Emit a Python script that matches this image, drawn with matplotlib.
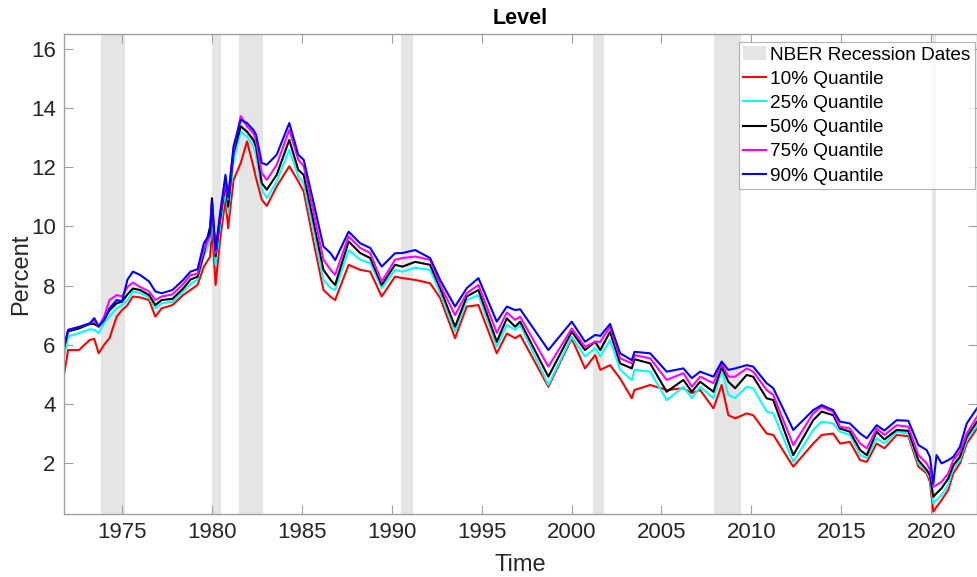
import matplotlib
matplotlib.use("Agg")
import matplotlib.pyplot as plt
import numpy as np

# ---- data ----
t = [1971.77, 1972.0, 1972.6, 1973.2, 1973.45, 1973.7, 1974.0, 1974.3, 1974.7, 1975.0,
     1975.3, 1975.6, 1976.0, 1976.5, 1976.85, 1977.2, 1977.8, 1978.4, 1978.8, 1979.2,
     1979.55, 1979.9, 1980.0, 1980.2, 1980.45, 1980.75, 1980.9, 1981.2, 1981.6, 1981.95,
     1982.3, 1982.45, 1982.77, 1983.05, 1983.6, 1984.3, 1984.8, 1985.1, 1985.7, 1986.2,
     1986.6, 1986.85, 1987.6, 1988.24, 1988.8, 1989.44, 1990.18, 1990.6, 1991.3, 1992.13,
     1992.69, 1993.52, 1994.17, 1994.82, 1995.84, 1996.4, 1996.86, 1997.14, 1998.71, 2000.01,
     2000.75, 2001.31, 2001.6, 2002.14, 2002.7, 2003.35, 2003.5, 2004.37, 2005.29, 2006.22,
     2006.69, 2007.15, 2007.89, 2008.35, 2008.72, 2009.1, 2009.74, 2010.1, 2010.85, 2011.22,
     2012.33, 2013.44, 2013.91, 2014.55, 2014.93, 2015.48, 2016.05, 2016.42, 2016.97, 2017.4,
     2018.08, 2018.73, 2019.29, 2019.75, 2019.93, 2020.12, 2020.3, 2020.58, 2020.95, 2021.23,
     2021.6, 2021.98, 2022.55]

q10 = [4.98, 5.82, 5.82, 6.16, 6.20, 5.71, 6.00, 6.22, 6.95, 7.17,
       7.34, 7.63, 7.60, 7.51, 6.95, 7.23, 7.34, 7.68, 7.85, 8.02,
       8.64, 8.98, 10.0, 8.02, 9.54, 10.9, 9.94, 11.57, 12.14, 12.87,
       12.03, 11.63, 10.9, 10.69, 11.35, 12.03, 11.52, 11.18, 9.32, 7.85,
       7.62, 7.51, 8.70, 8.53, 8.47, 7.63, 8.30, 8.25, 8.19, 8.08,
       7.58, 6.22, 7.29, 7.34, 5.71, 6.38, 6.22, 6.33, 4.58, 6.21,
       5.20, 5.65, 5.15, 5.31, 4.86, 4.19, 4.47, 4.64, 4.47, 4.53,
       4.36, 4.47, 3.85, 4.64, 3.62, 3.51, 3.68, 3.62, 3.00, 2.95,
       1.88, 2.66, 2.95, 3.00, 2.66, 2.72, 2.10, 2.04, 2.66, 2.50,
       2.95, 2.91, 1.88, 1.65, 1.37, 0.36, 0.52, 0.75, 1.09, 1.65,
       1.99, 2.66, 3.17]

q25 = [5.55, 6.28, 6.39, 6.52, 6.50, 6.39, 6.73, 6.95, 7.23, 7.34,
       7.50, 7.80, 7.75, 7.60, 7.23, 7.40, 7.45, 7.80, 8.05, 8.20,
       8.98, 9.54, 10.56, 8.70, 10.0, 11.29, 10.44, 12.2, 13.2, 13.04,
       12.71, 12.4, 11.24, 10.95, 11.52, 12.59, 11.69, 11.46, 9.66, 8.19,
       7.91, 7.85, 9.20, 8.87, 8.76, 7.91, 8.53, 8.47, 8.60, 8.53,
       7.74, 6.44, 7.51, 7.68, 5.93, 6.67, 6.50, 6.67, 4.64, 6.27,
       5.60, 5.88, 5.60, 6.16, 5.15, 4.80, 5.15, 5.09, 4.13, 4.58,
       4.19, 4.58, 4.19, 5.15, 4.30, 4.20, 4.58, 4.53, 3.74, 3.68,
       2.04, 3.12, 3.40, 3.34, 3.06, 2.95, 2.27, 2.17, 2.84, 2.66,
       3.06, 3.00, 1.99, 1.71, 1.48, 0.64, 0.75, 0.92, 1.26, 1.82,
       2.10, 2.78, 3.28]

q50 = [5.88, 6.45, 6.55, 6.70, 6.70, 6.61, 6.84, 7.17, 7.40, 7.46,
       7.70, 7.90, 7.85, 7.68, 7.34, 7.51, 7.55, 7.90, 8.20, 8.30,
       9.09, 10.0, 10.95, 8.98, 10.22, 11.46, 10.67, 12.48, 13.38, 13.2,
       12.92, 12.7, 11.46, 11.24, 11.74, 12.92, 11.91, 11.74, 10.0, 8.53,
       8.19, 8.02, 9.49, 9.10, 8.93, 8.02, 8.70, 8.64, 8.80, 8.70,
       7.91, 6.61, 7.63, 7.85, 6.10, 6.89, 6.61, 6.78, 4.92, 6.44,
       5.82, 6.10, 5.82, 6.44, 5.37, 5.20, 5.51, 5.37, 4.41, 4.81,
       4.41, 4.75, 4.41, 5.26, 4.75, 4.53, 4.98, 4.92, 4.19, 4.13,
       2.27, 3.45, 3.74, 3.62, 3.17, 3.06, 2.44, 2.27, 3.06, 2.80,
       3.12, 3.09, 2.10, 1.77, 1.60, 0.86, 0.98, 1.15, 1.48, 1.93,
       2.21, 2.89, 3.40]

q75 = [5.92, 6.50, 6.60, 6.72, 6.80, 6.62, 6.95, 7.51, 7.68, 7.63,
       7.95, 8.10, 7.95, 7.80, 7.51, 7.63, 7.70, 8.05, 8.35, 8.40,
       9.20, 9.70, 10.78, 9.09, 10.35, 11.57, 10.9, 12.59, 13.73, 13.38,
       13.15, 12.9, 11.8, 11.57, 12.08, 13.26, 12.25, 12.03, 10.33, 8.87,
       8.53, 8.36, 9.66, 9.27, 9.10, 8.13, 8.87, 8.93, 8.98, 8.87,
       8.02, 7.00, 7.74, 8.02, 6.40, 7.09, 6.84, 6.95, 5.26, 6.55,
       5.93, 6.10, 6.10, 6.61, 5.54, 5.37, 5.65, 5.54, 4.81, 5.04,
       4.58, 4.92, 4.70, 5.37, 4.92, 4.92, 5.20, 5.09, 4.47, 4.30,
       2.61, 3.68, 3.90, 3.73, 3.23, 3.17, 2.66, 2.50, 3.17, 2.95,
       3.28, 3.23, 2.27, 1.99, 1.77, 1.20, 1.26, 1.37, 1.65, 2.10,
       2.38, 3.00, 3.57]

q90 = [5.94, 6.50, 6.60, 6.72, 6.90, 6.62, 6.84, 7.23, 7.51, 7.46,
       8.20, 8.47, 8.36, 8.14, 7.80, 7.74, 7.85, 8.19, 8.47, 8.55,
       9.43, 9.77, 10.84, 9.20, 10.44, 11.74, 11.0, 12.71, 13.6, 13.49,
       13.26, 13.1, 12.14, 12.08, 12.42, 13.49, 12.42, 12.25, 10.67, 9.32,
       9.09, 8.86, 9.82, 9.43, 9.27, 8.64, 9.09, 9.10, 9.20, 8.93,
       8.19, 7.29, 7.91, 8.25, 6.78, 7.29, 7.17, 7.20, 5.82, 6.78,
       6.10, 6.33, 6.30, 6.70, 5.71, 5.48, 5.76, 5.71, 5.09, 5.20,
       4.87, 5.09, 4.92, 5.43, 5.15, 5.20, 5.31, 5.26, 4.70, 4.53,
       3.12, 3.79, 3.96, 3.79, 3.40, 3.34, 3.00, 2.84, 3.28, 3.10,
       3.45, 3.43, 2.61, 2.44, 2.21, 1.31, 2.27, 1.99, 2.10, 2.21,
       2.55, 3.34, 3.85]

rec_start = [1973.83, 1980.0, 1981.5, 1990.5, 2001.17, 2007.92, 2020.05]
rec_end = [1975.17, 1980.5, 1982.83, 1991.17, 2001.83, 2009.42, 2020.25]

series_labels = ["10% Quantile", "25% Quantile", "50% Quantile", "75% Quantile", "90% Quantile"]
series_colors = ["#ff0000", "#00ffff", "#000000", "#ff00ff", "#0000ff"]

# ---- figure ----
plt.rcParams['font.family'] = ['Liberation Sans', 'DejaVu Sans']
W, H = 978, 577
fig = plt.figure(figsize=(W / 100, H / 100), dpi=100)
L, R, T, B = 64, 977, 34, 514
ax = fig.add_axes([L / W, 1 - B / H, (R - L) / W, (B - T) / H])

for i, (s, e) in enumerate(zip(rec_start, rec_end)):
    ax.axvspan(s, e, color=(0.898, 0.898, 0.898), lw=0,
               label="NBER Recession Dates" if i == 0 else None, zorder=0)

for vals, lab, col in zip([q10, q25, q50, q75, q90], series_labels, series_colors):
    ax.plot(t, vals, color=col, lw=1.5, label=lab)

ax.set_xlim(1971.77, 2022.55)
ax.set_ylim(0.28, 16.5)
ax.set_xticks(np.arange(1975, 2021, 5))
ax.set_yticks(np.arange(2, 17, 2))

gray = "#a0a0a0"
txtc = "#262626"
for sp in ax.spines.values():
    sp.set_color(gray)
    sp.set_linewidth(1.0)
ax.tick_params(direction='in', length=6.5, width=0.8, color=gray, labelcolor=txtc,
               labelsize=16, top=True, right=True, pad=6)

ax.set_title("Level", fontsize=15.5, fontweight='bold', color='black', pad=7)
ax.set_xlabel("Time", fontsize=17, color=txtc, labelpad=8)
ax.set_ylabel("Percent", fontsize=17, color=txtc)
ax.yaxis.set_label_coords((32 - L) / (R - L), 0.5)

leg = ax.legend(loc='upper right', bbox_to_anchor=((975 - L) / (R - L), (B - 41.7) / (B - T)),
                borderaxespad=0, fontsize=13.7, frameon=True, fancybox=False,
                handlelength=1.2, handletextpad=0.2, labelspacing=0.36, borderpad=0.25,
                handleheight=0.7)
leg.get_frame().set_edgecolor(gray)
leg.get_frame().set_linewidth(0.8)
for tx in leg.get_texts():
    tx.set_color('black')

fig.savefig("out.png", dpi=100)
